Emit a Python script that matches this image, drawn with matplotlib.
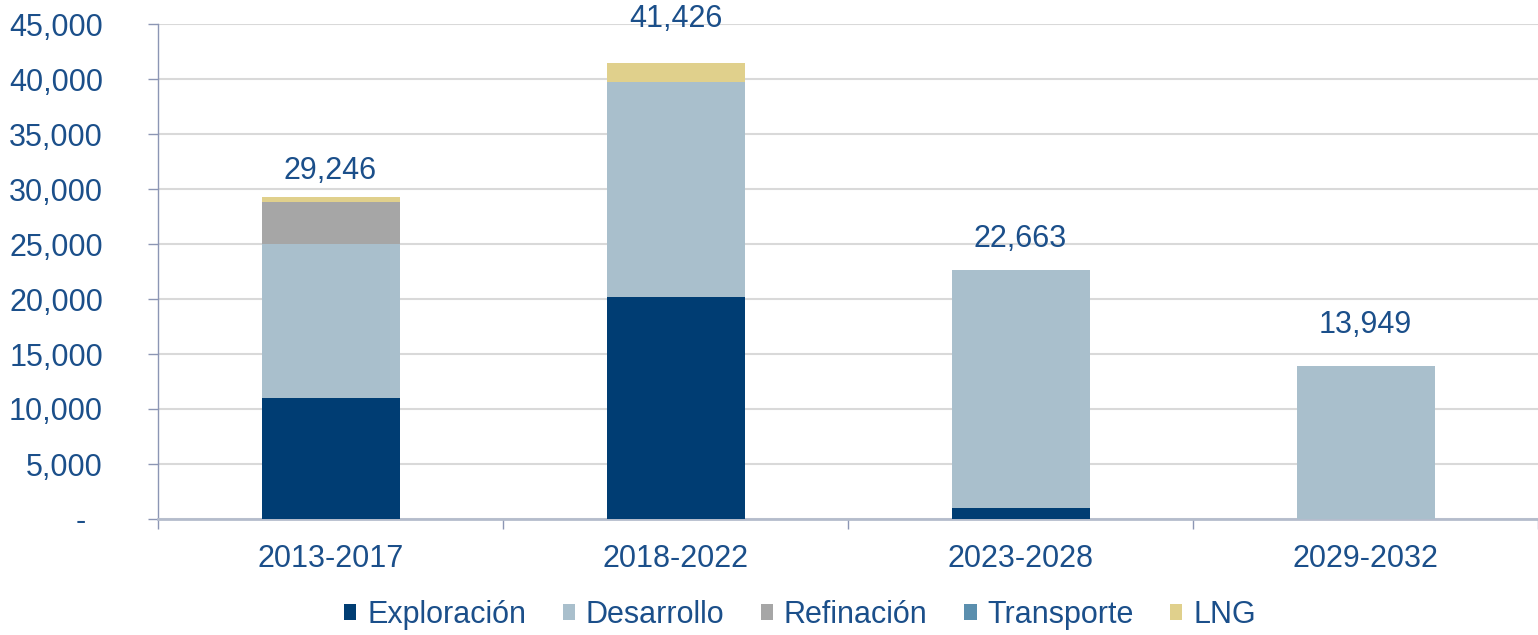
import matplotlib
matplotlib.use("Agg")
import matplotlib.pyplot as plt
from matplotlib.patches import Patch
from matplotlib.ticker import FuncFormatter
import numpy as np

categories = ["2013-2017", "2018-2022", "2023-2028", "2029-2032"]
series_names = ["Exploración", "Desarrollo", "Refinación", "Transporte", "LNG"]
exploracion = [11000, 20200, 1000, 0]
desarrollo = [14000, 19500, 21663, 13949]
refinacion = [3800, 0, 0, 0]
transporte = [0, 0, 0, 0]
lng = [446, 1726, 0, 0]
totals = [29246, 41426, 22663, 13949]

colors = ["#003D73", "#A9BFCC", "#A6A6A6", "#5B8FAE", "#E0D08C"]
text_color = "#1B4F8A"
label_gap_px = [18, 36, 23, 33]
FS = 22

plt.rcParams['font.family'] = ['Liberation Sans', 'DejaVu Sans']

W, H = 1538, 635
fig = plt.figure(figsize=(W / 100, H / 100), dpi=100)
ax = fig.add_axes([158 / W, (H - 519) / H, 1 - 158 / W, (519 - 24) / H])

x = np.arange(len(categories))
bottom = np.zeros(len(categories))
for vals, c in zip([exploracion, desarrollo, refinacion, transporte, lng], colors):
    v = np.array(vals, dtype=float)
    ax.bar(x, v, width=0.4, bottom=bottom, color=c, zorder=3)
    bottom += v

for xi, t, g in zip(x, totals, label_gap_px):
    ax.annotate(f"{t:,}", xy=(xi, t), xytext=(0, g * 72 / 100), textcoords="offset points",
                ha="center", va="baseline", fontsize=FS, color=text_color)

ax.set_xlim(-0.5, (W - 331) / 347)
ax.set_ylim(0, 45000)
ax.set_yticks(np.arange(0, 45001, 5000))
ax.yaxis.set_major_formatter(FuncFormatter(lambda v, p: "-  " if v == 0 else f"{int(v):,}"))
ax.grid(axis="y", color="#D9D9D9", linewidth=1.5, zorder=0)
ax.set_axisbelow(True)

ax.set_xticks(x)
ax.set_xticklabels(categories)
ax.set_xticks(np.arange(-0.5, len(categories), 1.0), minor=True)
ax.tick_params(axis="x", which="major", length=0, pad=25 * 72 / 100, labelsize=FS, labelcolor=text_color)
ax.tick_params(axis="x", which="minor", length=10 * 72 / 100, width=1, color="#8C96B4", direction="out")
ax.tick_params(axis="y", length=10 * 72 / 100, width=1, color="#8C96B4", pad=45 * 72 / 100,
               labelsize=FS, labelcolor=text_color)

for s in ["top", "right"]:
    ax.spines[s].set_visible(False)
ax.spines["left"].set_color("#8C96B4")
ax.spines["left"].set_linewidth(1)
ax.spines["bottom"].set_color("#B4BCCC")
ax.spines["bottom"].set_linewidth(2)

handles = [Patch(facecolor=c, edgecolor="none") for c in colors]
fig.legend(handles, series_names, loc="center", bbox_to_anchor=(800 / W, 1 - 615 / H),
           ncol=5, frameon=False, fontsize=FS, handlelength=0.4, handleheight=0.4,
           handletextpad=0.35, columnspacing=1.2, labelcolor=text_color)

fig.savefig("out.png", dpi=100)
